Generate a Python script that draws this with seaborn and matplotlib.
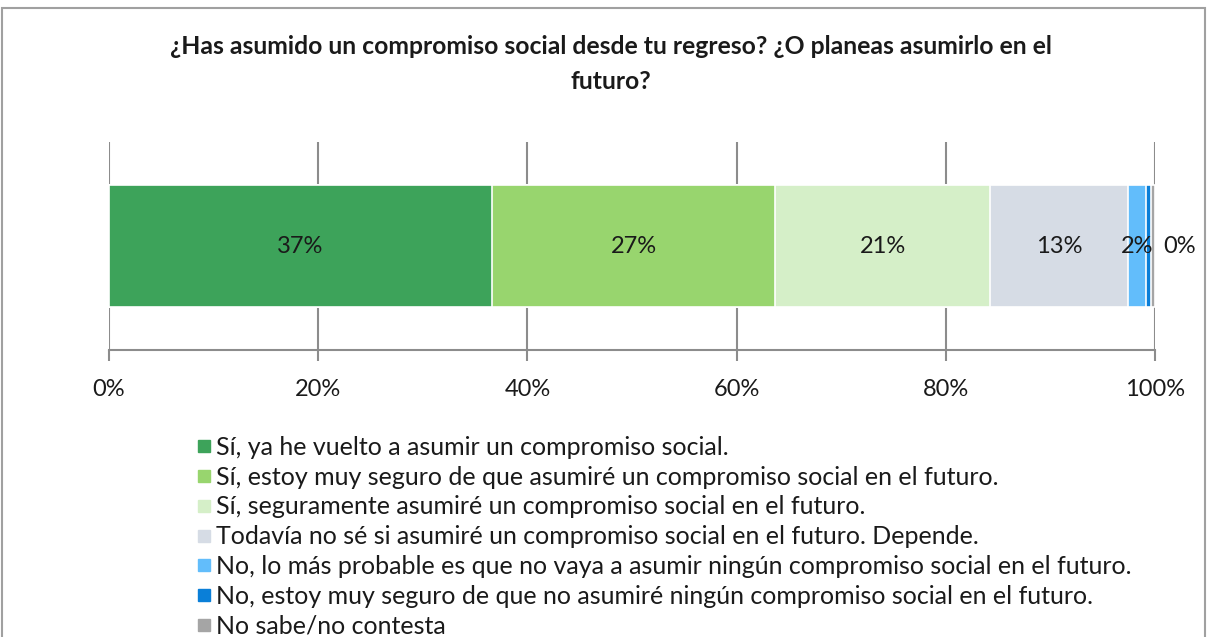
import numpy as np
import pandas as pd
import seaborn as sns
from matplotlib import pyplot as plt
from matplotlib.patches import Rectangle
from matplotlib.lines import Line2D


categories = ['Sí, ya he vuelto a asumir un compromiso social.',
              'Sí, estoy muy seguro de que asumiré un compromiso social en el futuro.',
              'Sí, seguramente asumiré un compromiso social en el futuro.',
              'Todavía no sé si asumiré un compromiso social en el futuro. Depende.',
              'No, lo más probable es que no vaya a asumir ningún compromiso social en el futuro.',
              'No, estoy muy seguro de que no asumiré ningún compromiso social en el futuro.',
              'No sabe/no contesta']
values = [36.6, 27.1, 20.5, 13.2, 1.7, 0.5, 0.4]
labels = ['37%', '27%', '21%', '13%', '2%', '', '0%']
colors = ['#3DA35A', '#98D56E', '#D5EFC8', '#D6DCE5', '#62BDFB', '#0A7FD8', '#A5A5A5']
xticks = [0, 20, 40, 60, 80, 100]

sns.set_theme(style='white')
plt.rcParams['font.family'] = ['Lato', 'DejaVu Sans']

df = pd.DataFrame({'cat': categories, 'value': values})
df['cum'] = df['value'].cumsum()
df['start'] = df['cum'] - df['value']
df['row'] = 'q'

fig = plt.figure(figsize=(12.08, 6.37), dpi=100)
ax = fig.add_axes([109 / 1208, 1 - 350 / 637, (1155 - 109) / 1208, 208 / 637])

# stack by overdrawing cumulative bars, biggest first
for i in range(len(df) - 1, -1, -1):
    sns.barplot(data=df.iloc[[i]], x='cum', y='row', color=colors[i], width=0.585,
                edgecolor='white', linewidth=1.2, saturation=1, ax=ax, zorder=3)

for i, row in df.iterrows():
    if labels[i] == '':
        continue
    if i == len(df) - 1:
        ax.text(100.8, 0, labels[i], ha='left', va='center', fontsize=17, color='#1a1a1a', zorder=5)
    else:
        ax.text(row['start'] + row['value'] / 2, 0, labels[i], ha='center', va='center',
                fontsize=17, color='#1a1a1a', zorder=5)

ax.set_xlim(0, 100)
ax.set_ylim(0.5, -0.5)
ax.set_xticks(xticks)
ax.set_xticklabels([f'{t}%' for t in xticks], fontsize=17, color='#1a1a1a')
ax.set_yticks([])
ax.set_xlabel('')
ax.set_ylabel('')
for x in xticks:
    ax.axvline(x, color='#8C8C8C', lw=1.5, zorder=1)
for s in ['top', 'right', 'left']:
    ax.spines[s].set_visible(False)
ax.spines['bottom'].set_color('#8C8C8C')
ax.spines['bottom'].set_linewidth(1.5)
ax.tick_params(axis='x', length=8, width=1.5, color='#8C8C8C', pad=13, bottom=True)

fig.suptitle('¿Has asumido un compromiso social desde tu regreso? ¿O planeas asumirlo en el\nfuturo?',
             x=611 / 1208, y=1 - 35 / 637, fontsize=17.8, fontweight='bold', color='#1a1a1a',
             linespacing=1.62, va='top')

handles = [Line2D([0], [0], marker='s', linestyle='', markersize=8, markerfacecolor=c,
                  markeredgecolor=c) for c in colors]
fig.legend(handles, categories, loc='upper left', bbox_to_anchor=(185 / 1208, 1 - 426 / 637),
           frameon=False, fontsize=18, handletextpad=0.15, labelspacing=0.27, borderaxespad=0,
           handlelength=0.7, labelcolor='#1a1a1a')

fig.add_artist(Rectangle((2 / 1208, -0.02), 1203 / 1208, 1.02 - 8 / 637, transform=fig.transFigure,
                         fill=False, edgecolor='#A0A0A0', lw=1.5))

fig.savefig('out.png', dpi=100)
